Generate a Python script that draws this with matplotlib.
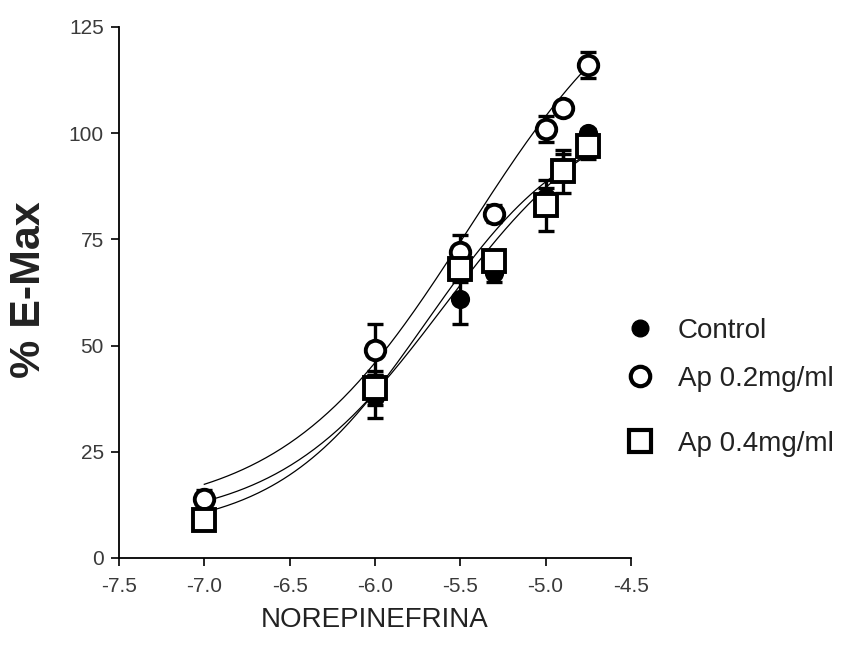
import numpy as np
import matplotlib
matplotlib.use("Agg")
import matplotlib.pyplot as plt
from matplotlib.lines import Line2D

plt.rcParams['font.family'] = ['Liberation Sans', 'DejaVu Sans']

# log concentration of norepinephrine
log_conc = [-7.0, -6.0, -5.5, -5.3, -5.0, -4.9, -4.75]

control = [10, 38, 61, 67, 85, 92, 100]
control_err = [2, 5, 6, 2, 2, 3, 1]
ap02 = [14, 49, 72, 81, 101, 106, 116]
ap02_err = [2, 6, 4, 2, 3, 1, 3]
ap04 = [9, 40, 68, 70, 83, 91, 97]
ap04_err = [2, 4, 3, 2, 6, 5, 3]

# sigmoidal fits: bottom, top, logEC50, hill slope
control_fit = (8, 110, -5.6, 0.9)
ap02_fit = (10, 145, -5.45, 0.8)
ap04_fit = (6, 105, -5.7, 1.0)

xtick_labels = ['-7.5', '-7.0', '-6.5', '-6.0', '-5.5', '-5.0', '-4.5']
ytick_labels = ['0', '25', '50', '75', '100', '125']


def hill(x, bottom, top, logec50, slope):
    return bottom + (top - bottom) / (1 + 10 ** ((logec50 - x) * slope))


fig = plt.figure(figsize=(8.51, 6.58), dpi=100)
ax = fig.add_axes([0.1398, 0.152, 0.6016, 0.807])

xs = np.linspace(min(log_conc), max(log_conc), 200)
for p in (control_fit, ap02_fit, ap04_fit):
    ax.plot(xs, hill(xs, *p), color='black', lw=0.9, zorder=1)

styles = [
    (control, control_err, 'o', 'black', 11),
    (ap02, ap02_err, 'o', 'white', 14),
    (ap04, ap04_err, 's', 'white', 15.5),
]
for vals, err, mk, fc, ms in styles:
    ax.errorbar(log_conc, vals, yerr=err, fmt='none', ecolor='black',
                elinewidth=2.4, capsize=6, capthick=2.4, zorder=2, clip_on=False)
    ax.plot(log_conc, vals, ls='none', marker=mk, ms=ms, mfc=fc, mec='black',
            mew=2.8, zorder=3, clip_on=False)

ax.set_xlim(-7.5, -4.5)
ax.set_ylim(0, 125)
ax.set_xticks(np.arange(-7.5, -4.49, 0.5))
ax.set_xticklabels(xtick_labels)
ax.set_yticks(np.arange(0, 126, 25))
ax.set_yticklabels(ytick_labels)
ax.tick_params(direction='out', length=6, width=1.2, labelsize=15,
               labelcolor='#3a3a3a', pad=5)
ax.tick_params(axis='x', pad=8)
for s in ('top', 'right'):
    ax.spines[s].set_visible(False)
for s in ('left', 'bottom'):
    ax.spines[s].set_linewidth(1.3)

fig.text(0.034, 0.56, '% E-Max', rotation=90, fontsize=31, fontweight='bold',
         ha='center', va='center', color='#222222')
fig.text(0.44, 0.058, 'NOREPINEFRINA', fontsize=20, ha='center', va='center',
         color='#222222')

h_ctrl = Line2D([], [], ls='none', marker='o', ms=12, mfc='black', mec='black')
h_02 = Line2D([], [], ls='none', marker='o', ms=14, mfc='white', mec='black', mew=3)
h_04 = Line2D([], [], ls='none', marker='s', ms=16, mfc='white', mec='black', mew=3)

leg_kw = dict(loc='upper left', frameon=False, fontsize=20, handlelength=1.0,
              handletextpad=0.87, borderpad=0, borderaxespad=0)
leg1 = ax.legend([h_ctrl, h_02], ['Control', 'Ap 0.2mg/ml'],
                 bbox_to_anchor=(0.99, 0.452), labelspacing=0.78, **leg_kw)
for t in leg1.get_texts():
    t.set_color('#222222')
ax.add_artist(leg1)
leg2 = ax.legend([h_04], ['Ap 0.4mg/ml'], bbox_to_anchor=(0.99, 0.239), **leg_kw)
for t in leg2.get_texts():
    t.set_color('#222222')

fig.savefig('out.png', dpi=100)
